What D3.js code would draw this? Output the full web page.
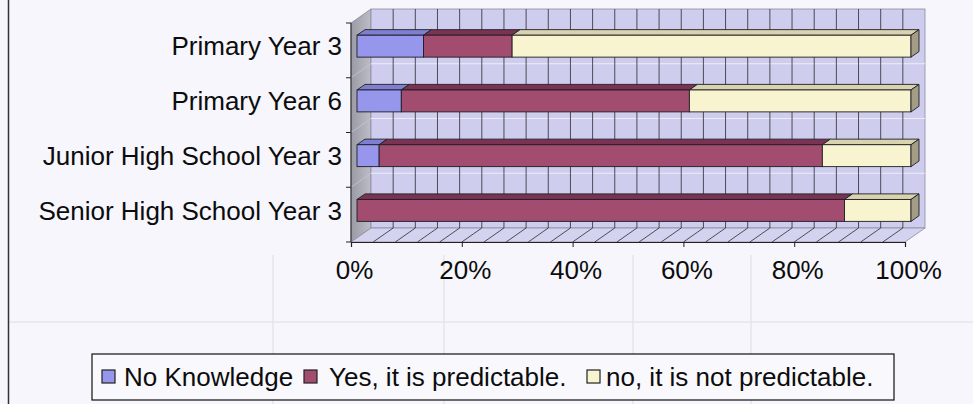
<!DOCTYPE html>
<html>
<head>
<meta charset="utf-8">
<script src="https://cdn.jsdelivr.net/npm/d3@7/dist/d3.min.js"></script>
<style>
  html, body { margin: 0; padding: 0; background: #f6f6fc; }
  svg { display: block; font-family: "Liberation Sans", Arial, sans-serif; }
</style>
</head>
<body>
<svg id="chart" width="973" height="404"></svg>
<script>
// Survey responses by school year (percent of students)
const categories = ["Primary Year 3", "Primary Year 6", "Junior High School Year 3", "Senior High School Year 3"];
const seriesNames = ["No Knowledge", "Yes, it is predictable.", "no, it is not predictable."];
const noKnowledge = [12, 8, 4, 0];
const yesPredictable = [16, 52, 80, 88];
const notPredictable = [72, 40, 16, 12];
const tickValues = [0, 20, 40, 60, 80, 100];
const tickLabels = ["0%", "20%", "40%", "60%", "80%", "100%"];

const colors = {
  front: ["#9696ec", "#a24c70", "#f8f4d0"],
  top:   ["#7f7fd2", "#7a3352", "#d8d3ae"],
  end:   ["#6a6ab0", "#5e2740", "#a39d86"]
};

const svg = d3.select("#chart");

// Faint ruled lines of the printed page behind the chart
const pageLines = svg.append("g").attr("stroke", "#e4e4ee").attr("stroke-width", 1.5);
pageLines.append("line").attr("x1", 8).attr("x2", 973).attr("y1", 322).attr("y2", 322);
[273, 444, 633, 751].forEach(px => {
  pageLines.append("line").attr("x1", px).attr("x2", px).attr("y1", 255).attr("y2", 404);
});

// 3D projection: depth runs up and to the right
const DX = 20, DY = -14;
const x = d3.scaleLinear().domain([0, 100]).range([351, 905]);
const y = d3.scaleBand().domain(categories).range([23, 242]).paddingInner(0.6).paddingOuter(0.3);
const yTop = 23, yBot = 242;
const k0 = 0.3, k1 = 0.7;   // front and back of each bar within the depth
const P = (xv, yy, k) => [x(xv) + k * DX, yy + k * DY];
const poly = pts => "M" + pts.map(p => p.join(",")).join("L") + "Z";

// Left side wall
const leftWall = [[x(0), yTop], [x(0) + DX, yTop + DY], [x(0) + DX, yBot + DY], [x(0), yBot]];
const grad = svg.append("defs").append("linearGradient").attr("id", "lw")
  .attr("x1", 0).attr("x2", 1).attr("y1", 0).attr("y2", 0);
grad.append("stop").attr("offset", 0).attr("stop-color", "#9a9aa4");
grad.append("stop").attr("offset", 1).attr("stop-color", "#bdbdc8");
svg.append("path").attr("d", poly(leftWall)).attr("fill", "url(#lw)").attr("stroke", "#8a8a94").attr("stroke-width", 0.8);

// Back wall
svg.append("rect")
  .attr("x", x(0) + DX).attr("y", yTop + DY)
  .attr("width", x(100) - x(0)).attr("height", yBot - yTop)
  .attr("fill", "#cecdee").attr("stroke", "#8c8ca0").attr("stroke-width", 0.8);

// Floor
const floor = [[x(0), yBot], [x(100), yBot], [x(100) + DX, yBot + DY], [x(0) + DX, yBot + DY]];
svg.append("path").attr("d", poly(floor)).attr("fill", "#d3d2ef").attr("stroke", "#8c8ca0").attr("stroke-width", 0.8);

// Category boundaries on the back wall and side wall
const bounds = d3.range(1, categories.length).map(i => yTop + i * y.step());
svg.selectAll(".hgrid").data(bounds).join("line")
  .attr("x1", x(0) + DX).attr("x2", x(100) + DX)
  .attr("y1", d => d + DY).attr("y2", d => d + DY)
  .attr("stroke", "#ececfa").attr("stroke-width", 1.2);
svg.selectAll(".sgrid").data(bounds).join("line")
  .attr("x1", x(0)).attr("x2", x(0) + DX)
  .attr("y1", d => d).attr("y2", d => d + DY)
  .attr("stroke", "#c6c6d0").attr("stroke-width", 0.8);

// Value gridlines every 4% on wall and floor
const grid = d3.range(4, 100, 4);
svg.selectAll(".vgrid").data(grid).join("line")
  .attr("x1", d => x(d) + DX).attr("x2", d => x(d) + DX)
  .attr("y1", yTop + DY).attr("y2", yBot + DY)
  .attr("stroke", "#2a2a30").attr("stroke-width", 0.8);
svg.selectAll(".fgrid").data(grid).join("line")
  .attr("x1", d => x(d)).attr("x2", d => x(d) + DX)
  .attr("y1", yBot).attr("y2", yBot + DY)
  .attr("stroke", "#2a2a30").attr("stroke-width", 0.8);

// Stacked 3D bars
const series = [noKnowledge, yesPredictable, notPredictable];
categories.forEach((cat, ci) => {
  const top = y(cat), bot = y(cat) + y.bandwidth();
  let start = 0;
  const segs = series.map((s, si) => {
    const seg = { si, s0: start, s1: start + s[ci] };
    start += s[ci];
    return seg;
  }).filter(d => d.s1 > d.s0);
  const g = svg.append("g");
  segs.forEach(d => {
    // top face
    g.append("path")
      .attr("d", poly([P(d.s0, top, k0), P(d.s1, top, k0), P(d.s1, top, k1), P(d.s0, top, k1)]))
      .attr("fill", colors.top[d.si]).attr("stroke", "#1e1e24").attr("stroke-width", 0.9);
    // front face
    const a = P(d.s0, top, k0), b = P(d.s1, bot, k0);
    g.append("rect")
      .attr("x", a[0]).attr("y", a[1]).attr("width", b[0] - a[0]).attr("height", b[1] - a[1])
      .attr("fill", colors.front[d.si]).attr("stroke", "#1e1e24").attr("stroke-width", 0.9);
  });
  const last = segs[segs.length - 1];
  g.append("path")
    .attr("d", poly([P(last.s1, top, k0), P(last.s1, top, k1), P(last.s1, bot, k1), P(last.s1, bot, k0)]))
    .attr("fill", colors.end[last.si]).attr("stroke", "#1e1e24").attr("stroke-width", 0.9);
});

// Category axis (front left edge) with ticks
svg.append("line").attr("x1", x(0)).attr("x2", x(0)).attr("y1", yTop).attr("y2", yBot)
  .attr("stroke", "#222").attr("stroke-width", 1);
svg.selectAll(".ctick").data([yTop, ...bounds, yBot]).join("line")
  .attr("x1", x(0) - 5).attr("x2", x(0)).attr("y1", d => d).attr("y2", d => d)
  .attr("stroke", "#222").attr("stroke-width", 1);

// Category labels
svg.selectAll(".clabel").data(categories).join("text")
  .attr("x", 342)
  .attr("y", d => y(d) + k0 * DY + y.bandwidth() / 2)
  .attr("dy", "0.35em")
  .attr("text-anchor", "end")
  .attr("font-size", 26)
  .attr("fill", "#0c0c0c")
  .text(d => d);

// Value axis along the front edge of the floor
const axis = d3.axisBottom(x).tickValues(tickValues).tickSize(5)
  .tickFormat((d, i) => tickLabels[i]);
const ax = svg.append("g").attr("transform", `translate(0,${yBot})`).call(axis);
ax.select(".domain").attr("stroke", "#222").attr("stroke-width", 1.2);
ax.selectAll(".tick line").attr("stroke", "#222");
ax.selectAll(".tick text")
  .attr("font-size", 26).attr("font-family", "Liberation Sans, Arial, sans-serif")
  .attr("fill", "#0c0c0c").attr("y", 19).attr("dy", "0.71em").attr("dx", 3);

// Legend
const lg = svg.append("g");
lg.append("rect").attr("x", 92).attr("y", 354).attr("width", 802).attr("height", 46)
  .attr("fill", "#f8f8fd").attr("stroke", "#111").attr("stroke-width", 1.2);
const legendItems = [
  { name: seriesNames[0], sw: 102, tx: 124 },
  { name: seriesNames[1], sw: 304, tx: 329 },
  { name: seriesNames[2], sw: 587, tx: 606 }
];
legendItems.forEach((d, i) => {
  lg.append("rect").attr("x", d.sw).attr("y", 370).attr("width", 13).attr("height", 13)
    .attr("fill", colors.front[i]).attr("stroke", "#222").attr("stroke-width", 1.2);
  lg.append("text").attr("x", d.tx).attr("y", 386)
    .attr("font-size", 26).attr("fill", "#0c0c0c").text(d.name);
});

// Left frame edge
svg.append("line").attr("x1", 8.5).attr("x2", 8.5).attr("y1", 0).attr("y2", 404)
  .attr("stroke", "#333").attr("stroke-width", 1.5);
</script>
</body>
</html>
